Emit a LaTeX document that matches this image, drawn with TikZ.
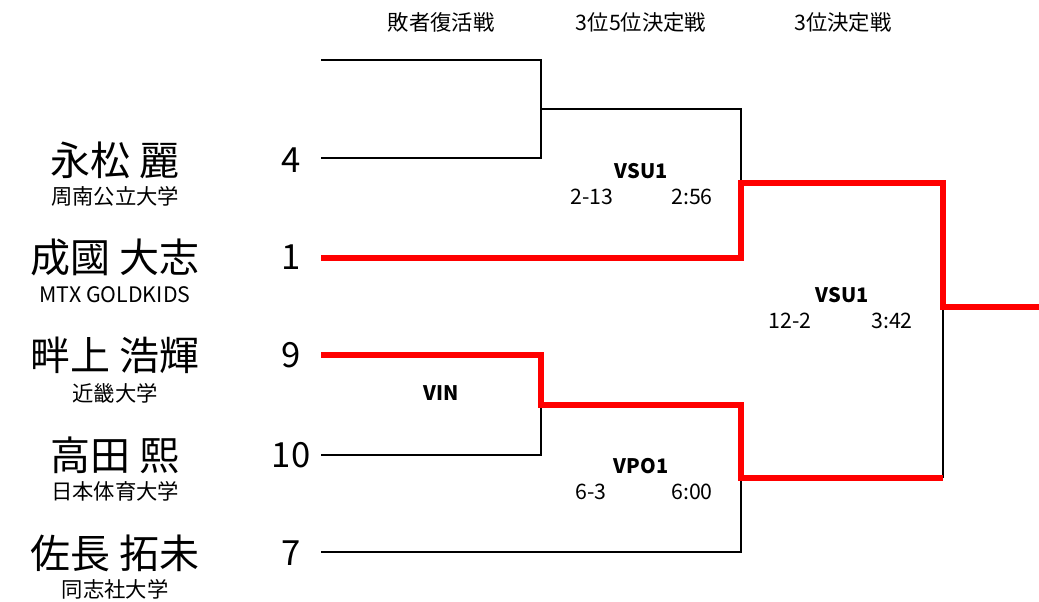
\documentclass[tikz,border=0pt]{standalone}
\usepackage{fontspec}
\setmainfont{Noto Sans CJK JP}
\usetikzlibrary{positioning}

\begin{document}
\begin{tikzpicture}[
    x=0.75pt, y=-0.75pt,
    every node/.style={inner sep=0pt},
    player/.style={font=\fontsize{30}{32}\selectfont},
    school/.style={font=\fontsize{16}{18}\selectfont},
    seed/.style={font=\fontsize{26}{28}\selectfont},
    stage/.style={font=\fontsize{16}{18}\selectfont},
    bout/.style={font=\bfseries\fontsize{15}{17}\selectfont},
    score/.style={font=\fontsize{16}{18}\selectfont},
    lost/.style={line width=1.5pt, black},
    won/.style={line width=3.8pt, red, line join=miter},
]
\useasboundingbox (0,0) rectangle (1039,602);

% stage titles
\node[stage] (s1) at (441,22) {敗者復活戦};
\node[stage] (s2) at (641,22) {3位5位決定戦};
\node[stage] (s3) at (843,22) {3位決定戦};

% players
\node[player] (p4)  at (115,160) {永松 麗};
\node[school] (u4)  at (115,196) {周南公立大学};
\node[player] (p1)  at (115,257) {成國 大志};
\node[school] (u1)  at (115,295) {MTX GOLDKIDS};
\node[player] (p9)  at (115,355) {畔上 浩輝};
\node[school] (u9)  at (115,393) {近畿大学};
\node[player] (p10) at (115,455) {高田 熙};
\node[school] (u10) at (115,491) {日本体育大学};
\node[player] (p7)  at (115,553) {佐長 拓未};
\node[school] (u7)  at (115,589) {同志社大学};

% seeds
\node[seed] (n4)  at (291,160) {4};
\node[seed] (n1)  at (291,257) {1};
\node[seed] (n9)  at (291,355) {9};
\node[seed] (n10) at (291,455) {10};
\node[seed] (n7)  at (291,553) {7};

% bracket points
\coordinate (e0)  at (321,60);
\coordinate (e4)  at (321,158);
\coordinate (e1)  at (321,258);
\coordinate (e9)  at (321,355);
\coordinate (e10) at (321,455);
\coordinate (e7)  at (321,552);
\coordinate (r1)  at (541,109);
\coordinate (r2)  at (541,405);
\coordinate (q1)  at (741,183);
\coordinate (q2)  at (741,478);
\coordinate (fin) at (943,307);
\coordinate (out) at (1039,307);

% bouts
\node[bout]  (b1) at (441,393) {VIN};
\node[bout]  (b2) at (641,171) {VSU1};
\node[score] (c2) at (592,197) {2-13};
\node[score] (t2) at (692,197) {2:56};
\node[bout]  (b3) at (641,466) {VPO1};
\node[score] (c3) at (591,492) {6-3};
\node[score] (t3) at (692,492) {6:00};
\node[bout]  (b4) at (842,295) {VSU1};
\node[score] (c4) at (790,321) {12-2};
\node[score] (t4) at (892,321) {3:42};

% lost lines
\draw[lost] (e0) -| (r1) |- (e4);
\draw[lost] (r1) -| (q1);
\draw[lost] (e10) -| (r2);
\draw[lost] (e7) -| (q2);
\draw[lost] (fin) -- (fin |- q2);

% winners
\draw[won] (e1) -| (q1) -| (fin) -- (out);
\draw[won] (e9) -| (r2) -| (q2) -| (fin |- q2);
\end{tikzpicture}
\end{document}
